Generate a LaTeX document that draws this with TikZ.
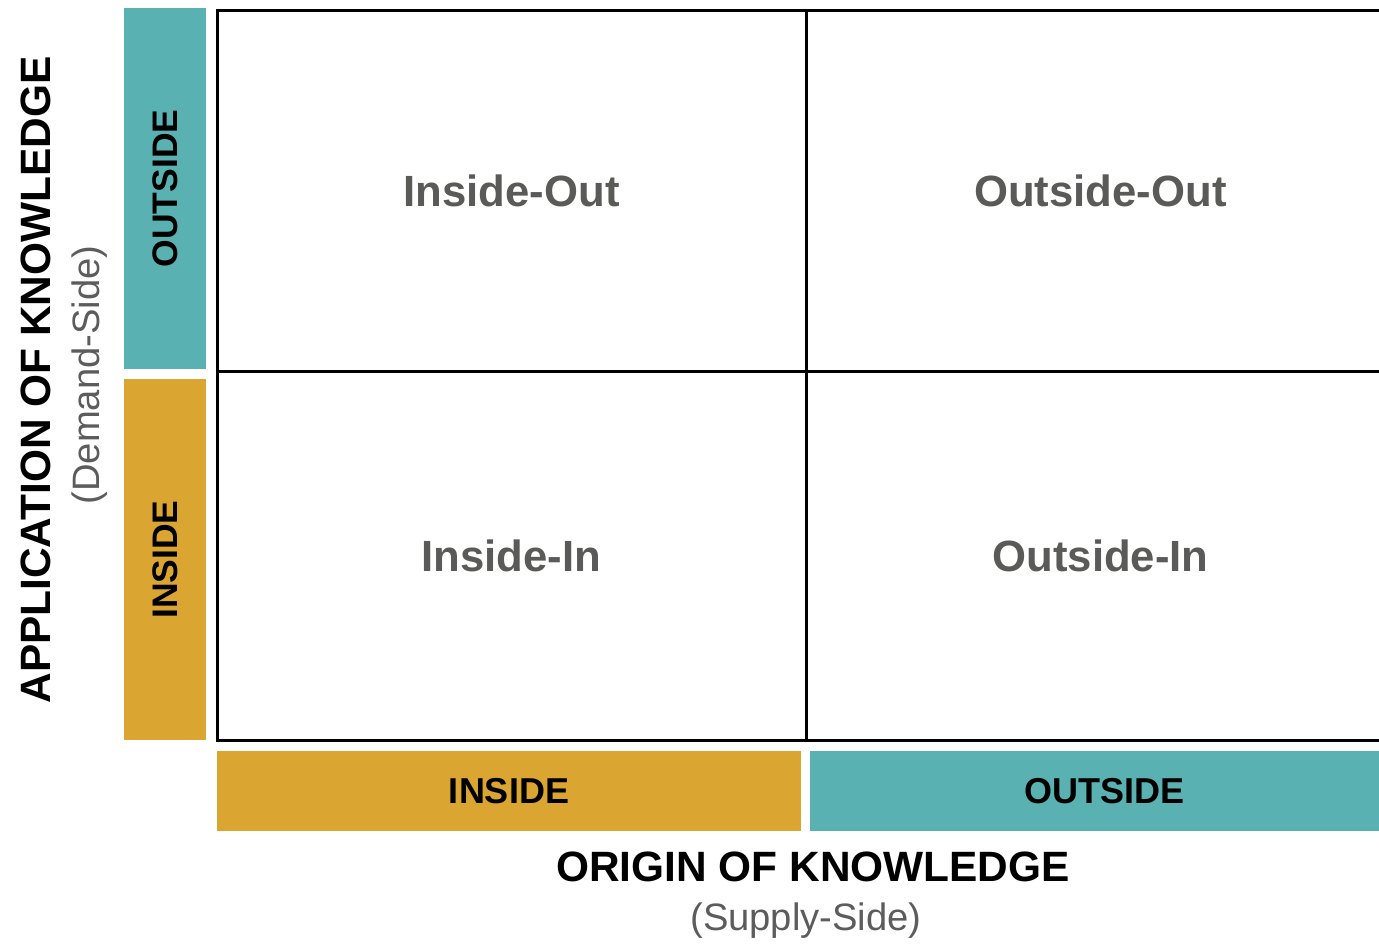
\documentclass[tikz,border=0pt]{standalone}
\usepackage{fontspec}
\setmainfont{Liberation Sans}
\definecolor{tealbar}{HTML}{5AB1B1}
\definecolor{goldbar}{HTML}{DBA531}
\definecolor{quadtext}{HTML}{5A5A58}
\definecolor{sidetext}{HTML}{5C5C5C}
\usetikzlibrary{positioning}
\tikzset{
	quadrant/.style={
		rectangle,
		draw=black,
		line width=3pt,
		fill=white,
		minimum width=589pt,
		inner sep=0pt,
		outer sep=0pt,
		text=quadtext,
		font=\fontsize{43.7}{50}\selectfont\bfseries
	},
	sidebar/.style={
		rectangle,
		minimum width=82pt,
		minimum height=361pt,
		inner sep=0pt,
		outer sep=0pt
	},
	sidelabel/.style={
		rotate=90,
		inner sep=0pt,
		text=black,
		font=\fontsize{35.5}{40}\selectfont\bfseries
	},
	basebar/.style={
		rectangle,
		minimum height=80pt,
		inner sep=0pt,
		outer sep=0pt,
		text=black,
		font=\fontsize{36}{40}\selectfont\bfseries
	},
	axistitle/.style={
		inner sep=0pt,
		text=black,
		font=\fontsize{42.4}{48}\selectfont\bfseries
	},
	axisside/.style={
		inner sep=0pt,
		text=sidetext,
		font=\fontsize{38.2}{44}\selectfont
	},
}

\begin{document}
\begin{tikzpicture}[x=1pt,y=-1pt]
	\useasboundingbox (0,0) rectangle (1379,945);
	% quadrants
	\node [quadrant,minimum height=361pt] (io) at (511.5,190.5) {Inside-Out};
	\node [quadrant,minimum height=361pt] (oo) [right=0pt of io] {Outside-Out};
	\node [quadrant,minimum height=369pt] (ii) [below=0pt of io] {Inside-In};
	\node [quadrant,minimum height=369pt] (oi) [right=0pt of ii] {Outside-In};
	% bars on the left
	\node [sidebar,fill=tealbar] (aout) [below left=-2pt and 11pt of io.north west] {};
	\node [sidebar,fill=goldbar] (ain) [below=10pt of aout] {};
	\node [sidelabel] (aoutlabel) at (aout) {OUTSIDE};
	\node [sidelabel] (ainlabel) at (ain) {INSIDE};
	% bars at the bottom
	\node [basebar,fill=goldbar,minimum width=584pt] (oin) [below right=11pt and 0pt of ii.south west] {INSIDE};
	\node [basebar,fill=tealbar,minimum width=588pt] (oout) [right=9pt of oin] {OUTSIDE};
	% axis titles
	\node [axistitle] (origin) at (813,867) {ORIGIN OF KNOWLEDGE};
	\node [axisside] (supply) at (806,921) {(Supply-Side)};
	\node [axistitle,rotate=90] (applic) at (36,380) {APPLICATION OF KNOWLEDGE};
	\node [axisside,rotate=90] (demand) at (90,375) {(Demand-Side)};
\end{tikzpicture}
\end{document}
